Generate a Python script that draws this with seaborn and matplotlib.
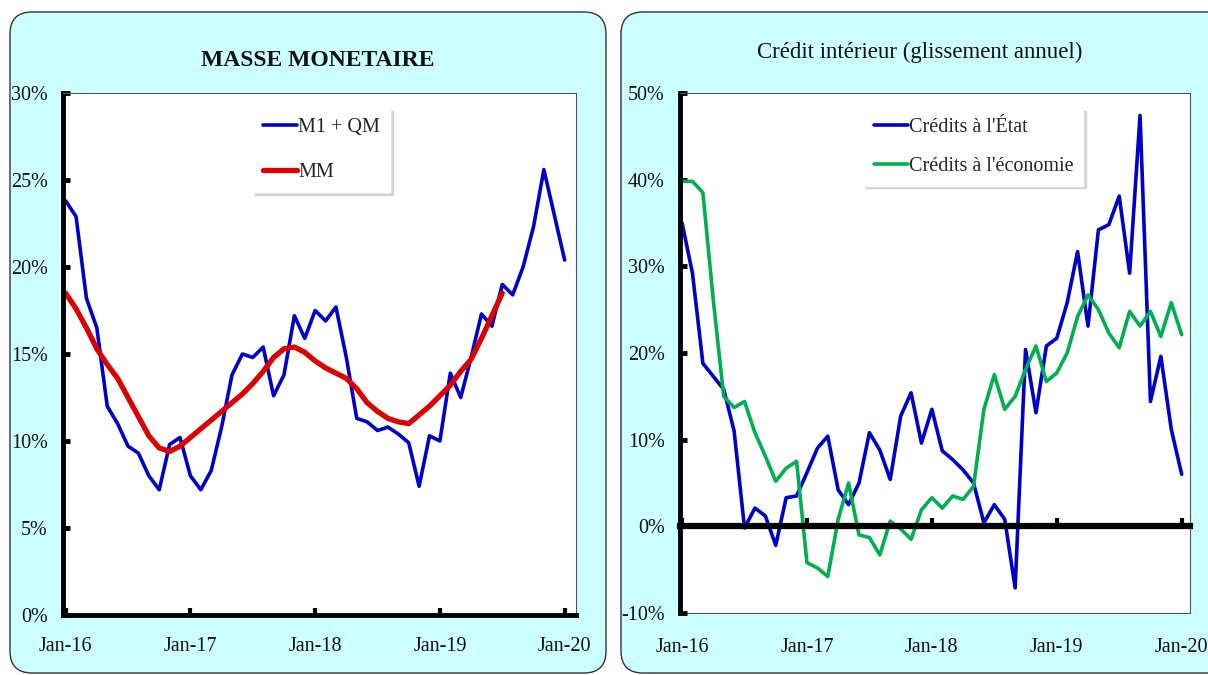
import numpy as np
import pandas as pd
import matplotlib
matplotlib.use("Agg")
import matplotlib.pyplot as plt
import seaborn as sns
from matplotlib.patches import FancyBboxPatch
from matplotlib.ticker import FuncFormatter

# monthly observations, Jan-16 .. Jan-20 (index 0..48)
m1qm = [23.8, 22.9, 18.2, 16.5, 12.0, 11.0, 9.7, 9.3, 8.0, 7.2,
        9.8, 10.2, 8.0, 7.2, 8.3, 10.8, 13.8, 15.0, 14.8, 15.4,
        12.6, 13.8, 17.2, 15.9, 17.5, 16.9, 17.7, 14.8, 11.3, 11.1,
        10.6, 10.8, 10.4, 9.9, 7.4, 10.3, 10.0, 13.9, 12.5, 14.8,
        17.3, 16.6, 19.0, 18.4, 20.0, 22.3, 25.6, 23.0, 20.4]
mm = [18.5, 17.6, 16.5, 15.3, 14.4, 13.6, 12.5, 11.4, 10.3, 9.6,
      9.4, 9.7, 10.2, 10.7, 11.2, 11.7, 12.2, 12.7, 13.3, 14.0,
      14.8, 15.3, 15.4, 15.1, 14.6, 14.2, 13.9, 13.6, 13.0, 12.2,
      11.7, 11.3, 11.1, 11.0, 11.5, 12.0, 12.6, 13.2, 14.0, 14.7,
      15.9, 17.2, 18.5]
creditEtat = [35.0, 29.2, 18.8, 17.3, 15.8, 11.0, -0.2, 2.1, 1.2, -2.2,
              3.3, 3.5, 6.2, 9.0, 10.4, 4.2, 2.5, 5.0, 10.8, 8.8,
              5.4, 12.7, 15.4, 9.6, 13.5, 8.7, 7.7, 6.5, 5.0, 0.4,
              2.5, 0.8, -7.1, 20.4, 13.1, 20.8, 21.7, 25.8, 31.7, 23.1,
              34.2, 34.8, 38.1, 29.2, 47.4, 14.4, 19.6, 11.2, 6.0]
creditEco = [39.8, 39.8, 38.5, 26.1, 15.0, 13.7, 14.4, 10.8, 8.1, 5.2,
             6.7, 7.5, -4.2, -4.8, -5.8, 0.8, 5.0, -1.0, -1.3, -3.3,
             0.6, -0.3, -1.5, 1.9, 3.3, 2.1, 3.5, 3.1, 4.6, 13.5,
             17.5, 13.5, 15.0, 18.1, 20.8, 16.7, 17.7, 20.0, 24.2, 26.7,
             25.0, 22.3, 20.6, 24.8, 23.1, 24.8, 21.9, 25.8, 22.1]
tickPos = [0, 12, 24, 36, 48]
tickLabels = ["Jan-16", "Jan-17", "Jan-18", "Jan-19", "Jan-20"]

BLUE = "#0000CC"
RED = "#DD0000"
GREEN = "#00B050"
PANEL = "#CCFFFF"

sns.set_theme(style="white")
plt.rcParams["font.family"] = ["Liberation Serif", "DejaVu Serif"]

fig = plt.figure(figsize=(12.08, 6.75), dpi=100)
fig.patch.set_facecolor("white")

for x0, w in [(0.10, 5.96), (6.21, 6.2)]:
    fig.add_artist(FancyBboxPatch(
        (x0, 0.02), w, 6.61, boxstyle="round,pad=0,rounding_size=0.22",
        transform=fig.dpi_scale_trans, facecolor=PANEL, edgecolor="#333333",
        linewidth=1.0, zorder=0,
    ))

pct = FuncFormatter(lambda v, _: f"{v:.0f}%")


def styleAxes(ax):
    ax.set_facecolor("white")
    for side in ["top", "right", "bottom"]:
        ax.spines[side].set_color("#555555")
        ax.spines[side].set_linewidth(0.8)
    ax.spines["left"].set_color("black")
    ax.spines["left"].set_linewidth(3.5)
    ax.yaxis.set_major_formatter(pct)
    ax.tick_params(axis="y", direction="in", length=5, width=3.5, color="black",
                   labelsize=14.5, pad=11, labelcolor="#111111", left=True)
    ax.set_xlabel("")
    ax.set_ylabel("")


def styleLegend(leg):
    frame = leg.get_frame()
    frame.set_facecolor("white")
    frame.set_edgecolor("white")


# left panel: money supply
ax1 = fig.add_axes([0.0522, 0.0889, 0.4247, 0.7733])
months = np.arange(len(m1qm))
sns.lineplot(x=months, y=m1qm, ax=ax1, color=BLUE, linewidth=2.6, label="M1 + QM")
sns.lineplot(x=months[:len(mm)], y=mm, ax=ax1, color=RED, linewidth=3.8, label="MM")
ax1.set_xlim(-0.25, 49.1)
ax1.set_ylim(0, 30)
ax1.set_yticks(range(0, 31, 5))
styleAxes(ax1)
ax1.spines["bottom"].set_color("black")
ax1.spines["bottom"].set_linewidth(3.5)
ax1.set_xticks(tickPos, tickLabels)
ax1.tick_params(axis="x", direction="in", length=5, width=3, color="black",
                labelsize=14.5, pad=16, labelcolor="#111111", bottom=True)
leg1 = ax1.legend(loc="upper left", bbox_to_anchor=(0.35, 0.99), fontsize=14.5,
                  handlelength=1.7, handletextpad=0.05, labelspacing=1.25,
                  borderpad=0.5, frameon=True, fancybox=False,
                  shadow={"color": "#c8c8c8", "alpha": 0.7})
styleLegend(leg1)
fig.text(0.263, 0.911, "MASSE MONETAIRE", ha="center", va="center",
         fontsize=17, fontweight="bold", color="#111111")

# right panel: domestic credit
ax2 = fig.add_axes([0.5629, 0.0919, 0.4222, 0.7704])
sns.lineplot(x=months, y=creditEtat, ax=ax2, color=BLUE, linewidth=2.6,
             label="Crédits à l'État")
sns.lineplot(x=months, y=creditEco, ax=ax2, color=GREEN, linewidth=2.6,
             label="Crédits à l'économie")
ax2.set_xlim(-0.2, 48.8)
ax2.set_ylim(-10, 50)
ax2.set_yticks(range(-10, 51, 10))
styleAxes(ax2)
ax2.spines["bottom"].set_position(("data", 0))
ax2.spines["bottom"].set_color("black")
ax2.spines["bottom"].set_linewidth(4.5)
ax2.spines["bottom"].set_zorder(3)
ax2.set_xticks(tickPos)
ax2.tick_params(axis="x", direction="in", length=6, width=3, color="black",
                labelbottom=False, bottom=True)
sec = ax2.secondary_xaxis("bottom")
sec.set_xticks(tickPos, tickLabels)
sec.tick_params(length=0, labelsize=14.5, pad=18, labelcolor="#111111")
sec.spines["bottom"].set_color("#555555")
sec.spines["bottom"].set_linewidth(0.8)
leg2 = ax2.legend(loc="upper left", bbox_to_anchor=(0.34, 0.99), fontsize=14.5,
                  handlelength=1.7, handletextpad=0.05, labelspacing=0.95,
                  borderpad=0.5, frameon=True, fancybox=False,
                  shadow={"color": "#c8c8c8", "alpha": 0.7})
styleLegend(leg2)
fig.text(0.761, 0.923, "Crédit intérieur (glissement annuel)", ha="center",
         va="center", fontsize=16.5, color="#111111")

fig.savefig("out.png", dpi=100, facecolor="white")
